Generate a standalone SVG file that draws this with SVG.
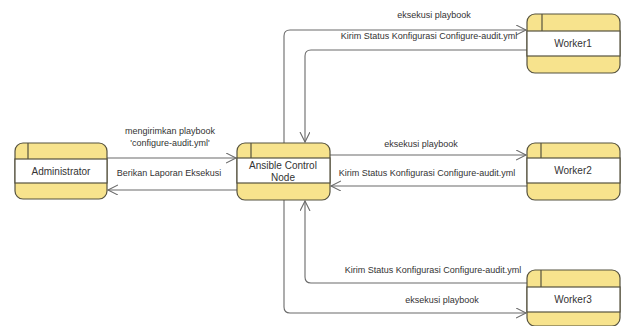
<svg xmlns="http://www.w3.org/2000/svg" width="623" height="326" viewBox="0 0 623 326">
<defs>
<style>
.box{fill:#f7e38d;stroke:#55523f;stroke-width:1.2}
.band{fill:#ffffff;stroke:#55523f;stroke-width:1.2}
.div{stroke:#55523f;stroke-width:1.2;fill:none}
.conn{fill:none;stroke:#6a6a6a;stroke-width:1.1;marker-end:url(#arr)}
.lbl{font-family:"Liberation Sans",Arial,sans-serif;font-size:9px;fill:#333;text-anchor:middle}
.nl{font-family:"Liberation Sans",Arial,sans-serif;font-size:10px;fill:#333;text-anchor:middle}
</style>
<marker id="arr" markerWidth="12" markerHeight="12" refX="10" refY="5" orient="auto" markerUnits="userSpaceOnUse">
<path d="M0,0 L10,5 L0,10" fill="none" stroke="#6a6a6a" stroke-width="1.1"/>
</marker>
</defs>
<rect width="623" height="326" fill="#ffffff"/>

<g id="connectors">
<path class="conn" d="M284,143 V36 Q284,30 290,30 H526"/>
<path class="conn" d="M527,50 H311 Q305,50 305,56 V142"/>
<path class="conn" d="M330,155 H526"/>
<path class="conn" d="M527,186 H331"/>
<path class="conn" d="M527,283 H311 Q305,283 305,277 V201"/>
<path class="conn" d="M284,200 V307 Q284,313 290,313 H526"/>
<path class="conn" d="M107,158 H236"/>
<path class="conn" d="M237,190 H108"/>
</g>

<g id="labels">
<text class="lbl" x="434" y="18">eksekusi playbook</text>
<text class="lbl" x="429" y="39">Kirim Status Konfigurasi Configure-audit.yml</text>
<text class="lbl" x="421" y="147">eksekusi playbook</text>
<text class="lbl" x="427" y="176">Kirim Status Konfigurasi Configure-audit.yml</text>
<text class="lbl" x="433" y="273">Kirim Status Konfigurasi Configure-audit.yml</text>
<text class="lbl" x="442" y="303">eksekusi playbook</text>
<text class="lbl" x="170" y="134">mengirimkan playbook</text>
<text class="lbl" x="170" y="146">'configure-audit.yml'</text>
<text class="lbl" x="169" y="176">Berikan Laporan Eksekusi</text>
</g>

<g id="node-administrator">
<rect class="box" x="15" y="143" width="92" height="56" rx="8"/>
<rect class="band" x="15" y="159" width="92" height="24"/>
<line class="div" x1="28" y1="143" x2="28" y2="159"/>
<text class="nl" x="61" y="175">Administrator</text>
</g>

<g id="node-ansible">
<rect class="box" x="237" y="143" width="93" height="57" rx="8"/>
<rect class="band" x="237" y="158" width="93" height="25"/>
<line class="div" x1="251" y1="143" x2="251" y2="158"/>
<text class="nl" x="283" y="169">Ansible Control</text>
<text class="nl" x="283" y="181">Node</text>
</g>

<g id="node-worker1">
<rect class="box" x="527" y="14" width="93" height="59" rx="8"/>
<rect class="band" x="527" y="31" width="93" height="25"/>
<line class="div" x1="542" y1="14" x2="542" y2="31"/>
<text class="nl" x="573" y="47">Worker1</text>
</g>

<g id="node-worker2">
<rect class="box" x="527" y="143" width="93" height="57" rx="8"/>
<rect class="band" x="527" y="158" width="93" height="25"/>
<line class="div" x1="541" y1="143" x2="541" y2="158"/>
<text class="nl" x="573" y="174">Worker2</text>
</g>

<g id="node-worker3">
<rect class="box" x="527" y="270" width="93" height="56" rx="8"/>
<rect class="band" x="527" y="287" width="93" height="25"/>
<line class="div" x1="541" y1="270" x2="541" y2="287"/>
<text class="nl" x="573" y="303">Worker3</text>
</g>
</svg>
